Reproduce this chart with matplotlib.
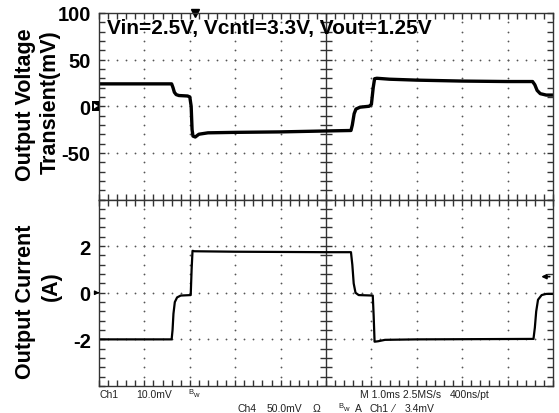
import matplotlib
matplotlib.use('Agg')
import matplotlib.pyplot as plt
import numpy as np
from matplotlib.patches import Rectangle, Polygon

plt.rcParams['font.family'] = ['Liberation Sans', 'DejaVu Sans']

# ---- data (time in ms, 1 ms/div, 10 divisions) ----
v_time = [0.0, 1.60, 1.63, 1.66, 1.70, 1.76, 1.95, 2.00, 2.03, 2.05, 2.07, 2.12,
          2.20, 2.40, 3.00, 4.00, 5.00, 5.55, 5.58, 5.62, 5.66, 5.75, 5.95, 6.00,
          6.04, 6.07, 6.12, 6.40, 7.00, 8.00, 9.00, 9.55, 9.60, 9.65, 9.72, 9.85, 10.0]
v_mv = [24, 24, 20, 15, 12.5, 11.5, 11, 10, 0, -25, -32, -33,
        -30, -28.5, -28, -27.5, -26.5, -26, -20, -8, -3, -1, 0, 2,
        20, 29.5, 30, 29, 28, 27, 26.5, 26.5, 23, 17, 13.5, 12, 12]

i_time = [0.0, 1.60, 1.62, 1.64, 1.67, 1.72, 1.80, 2.02, 2.04, 2.06, 2.10, 3.0,
          4.0, 5.0, 5.55, 5.58, 5.61, 5.65, 5.72, 6.03, 6.05, 6.07, 6.15, 6.30,
          7.0, 9.57, 9.60, 9.63, 9.67, 9.75, 9.85, 10.0]
i_amp = [-2.0, -2.0, -1.6, -0.9, -0.4, -0.2, -0.12, -0.1, 1.0, 1.8, 1.78, 1.76,
         1.75, 1.74, 1.74, 1.2, 0.4, 0.0, -0.1, -0.12, -1.0, -2.1, -2.08, -2.02,
         -2.0, -1.98, -1.5, -0.8, -0.3, -0.1, -0.05, -0.05]

v_ticks = [100, 50, 0, -50]
v_ticklabels = ['100', '50', '0', '-50']
i_ticks = [2, 0, -2]
i_ticklabels = ['2', '0', '-2']

title = 'Vin=2.5V, Vcntl=3.3V, Vout=1.25V'

W, H = 559, 414
fig = plt.figure(figsize=(W / 100, H / 100), dpi=100)
L, R = 99, 553
T, M, B = 14, 200.5, 387
ax1 = fig.add_axes([L / W, 1 - M / H, (R - L) / W, (M - T) / H])
ax2 = fig.add_axes([L / W, 1 - B / H, (R - L) / W, (B - M) / H])

frame_c = '#333333'
dot_c = '#555555'


def graticule(ax, ylo, yhi, ticks, labels):
    ydiv = (yhi - ylo) / 4
    ax.set_xlim(0, 10)
    ax.set_ylim(ylo, yhi)
    for s in ax.spines.values():
        s.set_color(frame_c)
        s.set_linewidth(1)
    ax.set_xticks(np.arange(0, 11, 1))
    ax.set_xticks(np.arange(0, 10.001, 0.2), minor=True)
    ax.set_yticks(ticks)
    ax.set_yticklabels(labels)
    ax.set_yticks(np.arange(ylo, yhi + 1e-9, ydiv / 5), minor=True)
    ax.tick_params(which='both', direction='in', top=True, right=True,
                   color=frame_c, width=1, length=4)
    ax.tick_params(axis='x', labelbottom=False)
    ax.tick_params(axis='y', labelsize=14.5, pad=6)
    for lb in ax.get_yticklabels():
        lb.set_fontweight('bold')
    fine_x = np.arange(0, 10.001, 0.2)
    fine_y = np.arange(ylo, yhi + 1e-9, ydiv / 5)
    for gx in [1, 2, 3, 4, 6, 7, 8, 9]:
        ax.plot([gx] * len(fine_y), fine_y, ls='', marker='o', ms=1.3,
                mew=0, color=dot_c)
    for k in range(1, 4):
        gy = ylo + k * ydiv
        ax.plot(fine_x, [gy] * len(fine_x), ls='', marker='o', ms=1.3,
                mew=0, color=dot_c)
    ax.axvline(5, color=frame_c, lw=1)
    ax.plot([5] * len(fine_y), fine_y, ls='', marker='_', ms=8, mew=1,
            color=frame_c)


graticule(ax1, -100, 100, v_ticks, v_ticklabels)
graticule(ax2, -4, 4, i_ticks, i_ticklabels)

ax1.plot(v_time, v_mv, color='black', lw=2.4, solid_joinstyle='round')
ax2.plot(i_time, i_amp, color='black', lw=1.6, solid_joinstyle='round')

# trigger marker on top edge
ax1.plot([2.11], [100], marker='v', ms=6, color='black', clip_on=False)

# right-side arrow in bottom panel
ax2.annotate('', xy=(9.68, 0.69), xytext=(9.99, 0.69),
             arrowprops=dict(arrowstyle='-|>', color='black', lw=1.2,
                             mutation_scale=7))
# left ground marker in bottom panel
ax2.annotate('', xy=(0.07, 0), xytext=(-0.1, 0), annotation_clip=False,
             arrowprops=dict(arrowstyle='-|>', color='black', lw=1,
                             mutation_scale=6))

# channel marker on top panel at 0
def px(x, y):
    return x / W, 1 - y / H

rx, ry = px(92, 112)
fig.patches.append(Rectangle((rx, ry), 7 / W, 10 / H, transform=fig.transFigure,
                             facecolor='black', edgecolor='none'))
fig.patches.append(Polygon([px(94, 104.5), px(94, 109.5), px(98, 107)],
                           closed=True, transform=fig.transFigure,
                           facecolor='white', edgecolor='none'))

# title inside the screen
fig.text(*px(107, 28.5), title, fontsize=15, fontweight='bold',
         ha='left', va='center', color='black')

# y-axis labels
fig.text(*px(26, 105), 'Output Voltage', rotation=90, fontsize=15.5,
         fontweight='bold', ha='center', va='center')
fig.text(*px(50, 102), 'Transient(mV)', rotation=90, fontsize=15.5,
         fontweight='bold', ha='center', va='center')
fig.text(*px(26, 302), 'Output Current', rotation=90, fontsize=15.5,
         fontweight='bold', ha='center', va='center')
fig.text(*px(51, 286), '(A)', rotation=90, fontsize=15.5,
         fontweight='bold', ha='center', va='center')

# scope status text
sc = '#222222'
fs = 7.5
fig.text(*px(100, 395), 'Ch1', fontsize=fs, color=sc, va='center')
fig.text(*px(136, 395), '10.0mV', fontsize=fs, color=sc, va='center')
fig.text(*px(188, 393), 'B', fontsize=5.5, color=sc, va='center')
fig.text(*px(193, 396), 'w', fontsize=5.5, color=sc, va='center')
fig.text(*px(360, 395), 'M 1.0ms 2.5MS/s', fontsize=fs, color=sc, va='center')
fig.text(*px(450, 395), '400ns/pt', fontsize=fs, color=sc, va='center')
fig.text(*px(237, 409), 'Ch4', fontsize=fs, color=sc, va='center')
fig.text(*px(267, 409), '50.0mV', fontsize=fs, color=sc, va='center')
fig.text(*px(313, 409), 'Ω', fontsize=fs, color=sc, va='center')
fig.text(*px(338, 407), 'B', fontsize=5.5, color=sc, va='center')
fig.text(*px(343, 410), 'w', fontsize=5.5, color=sc, va='center')
fig.text(*px(355, 409), 'A', fontsize=fs, color=sc, va='center')
fig.text(*px(369, 409), 'Ch1', fontsize=fs, color=sc, va='center')
fig.text(*px(392, 409), '⁄', fontsize=fs, color=sc, va='center')
fig.text(*px(405, 409), '3.4mV', fontsize=fs, color=sc, va='center')

fig.savefig('out.png', dpi=100, facecolor='white')
